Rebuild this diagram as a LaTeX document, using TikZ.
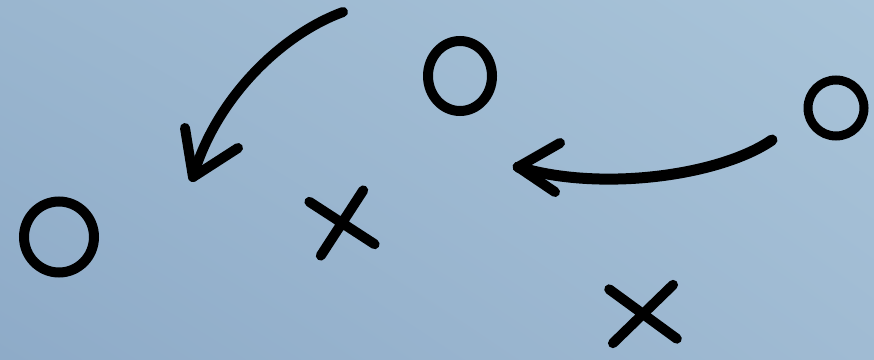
\documentclass[tikz,border=0pt]{standalone}
\usepackage{tikz}
\usetikzlibrary{shapes.geometric,shapes.misc,shadings}

\definecolor{bgll}{HTML}{8EABC8}
\definecolor{bgul}{HTML}{9AB6CF}
\definecolor{bglr}{HTML}{A0BBD3}
\definecolor{bgur}{HTML}{A9C4D9}

\begin{document}
\begin{tikzpicture}[x=1pt,y=-1pt]

    \tikzset{
      ring/.style={
        draw,
        ellipse,
        line width=10pt,
        inner sep=0pt,
      },
      xmark/.style={
        draw,
        cross out,
        line width=10pt,
        line cap=round,
        inner sep=0pt,
      },
      stroke/.style={
        line width=10pt,
        line cap=round,
        line join=round,
      },
    }
    \useasboundingbox (0,0) rectangle (874,359);
    \shade[lower left=bgll, upper left=bgul, lower right=bglr, upper right=bgur] (0,359) rectangle (874,0);

	% the o's
	\node[ring, minimum width=70pt, minimum height=71pt] (o1) at (59,237) {};
	\node[ring, minimum width=64pt, minimum height=70pt] (o2) at (460,76) {};
	\node[ring, minimum width=56pt, minimum height=56pt, line width=9pt] (o3) at (836,108) {};

	% the x's
	\node[xmark, minimum width=45pt, minimum height=45pt, rotate=12] (x1) at (342,223) {};
	\node[xmark, minimum width=54pt, minimum height=44pt, rotate=4] (x2) at (643,314) {};

	% first arrow
	\coordinate (a1s) at (343,12);
	\coordinate (a1t) at (193,177);
	\coordinate (a1l) at (185,128);
	\coordinate (a1r) at (238,148);
	\draw[stroke] (a1s) .. controls (280,35) and (215,100) .. (a1t);
	\draw[stroke] (a1l) -- (a1t) -- (a1r);

	% second arrow
	\coordinate (a2s) at (772,140);
	\coordinate (a2t) at (518,167);
	\coordinate (a2l) at (560,143);
	\coordinate (a2r) at (555,192);
	\draw[stroke, line width=11pt] (a2s) .. controls (720,176) and (600,192) .. (a2t);
	\draw[stroke] (a2l) -- (a2t) -- (a2r);

\end{tikzpicture}
\end{document}
